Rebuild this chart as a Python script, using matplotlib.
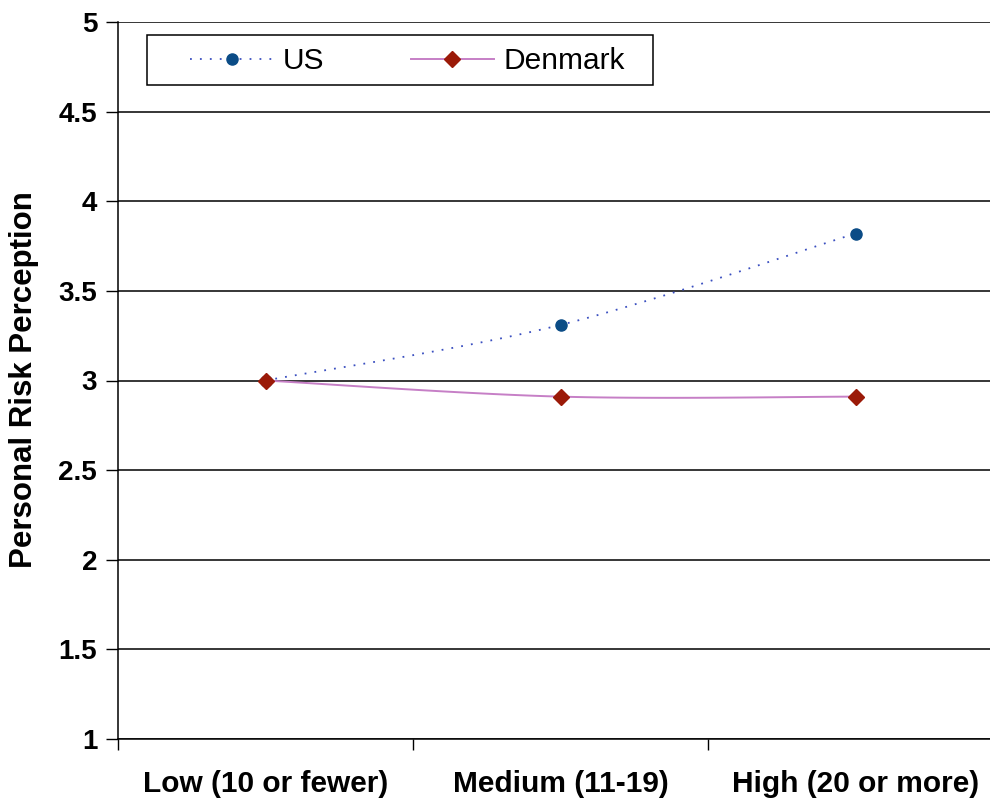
import numpy as np
import matplotlib
matplotlib.use("Agg")
import matplotlib.pyplot as plt
from matplotlib.patches import Rectangle

# Personal risk perception by number of events, by country
categories = ["Low (10 or fewer)", "Medium (11-19)", "High (20 or more)"]
us_values = [3.00, 3.31, 3.82]
denmark_values = [3.00, 2.91, 2.91]
y_ticks = [1, 1.5, 2, 2.5, 3, 3.5, 4, 4.5, 5]
y_tick_labels = ["1", "1.5", "2", "2.5", "3", "3.5", "4", "4.5", "5"]

plt.rcParams["font.family"] = ["Liberation Sans", "DejaVu Sans"]


def smooth(xs, ys, n=60):
    """Spreadsheet-style smoothed line: cubic Bezier segments with
    Catmull-Rom control points (1/6 of the neighbour span)."""
    pts = np.column_stack([xs, ys]).astype(float)
    ext = np.vstack([pts[0], pts, pts[-1]])
    out = []
    t = np.linspace(0, 1, n)[:, None]
    for i in range(len(pts) - 1):
        p0 = ext[i + 1]
        p3 = ext[i + 2]
        p1 = p0 + (ext[i + 2] - ext[i]) / 6.0
        p2 = p3 - (ext[i + 3] - ext[i + 1]) / 6.0
        seg = ((1 - t) ** 3) * p0 + 3 * ((1 - t) ** 2) * t * p1 \
            + 3 * (1 - t) * t ** 2 * p2 + t ** 3 * p3
        out.append(seg if i == 0 else seg[1:])
    curve = np.vstack(out)
    return curve[:, 0], curve[:, 1]


W, H = 990, 802
fig = plt.figure(figsize=(W / 100, H / 100), dpi=100)
# plot area: left edge at 118 px, spans 885 px (runs past the right edge)
AX_L, AX_W, AX_T, AX_B = 118, 885, 22, 739
ax = fig.add_axes([AX_L / W, 1 - AX_B / H, AX_W / W, (AX_B - AX_T) / H])
ax_h = AX_B - AX_T

x = np.arange(len(categories)) + 0.5

us_line_color = "#3a4fc0"
us_marker_color = "#0b4c86"
dk_line_color = "#c67fc6"
dk_marker_color = "#9b1a08"
us_dash = (0, (1, 4.5))

sx, sy = smooth(x, us_values)
ax.plot(sx, sy, linestyle=us_dash, color=us_line_color, lw=1.3, zorder=3)
ax.plot(x, us_values, linestyle="none", marker="o", markersize=8,
        color=us_marker_color, zorder=4)
dx, dy = smooth(x, denmark_values)
ax.plot(dx, dy, linestyle="-", color=dk_line_color, lw=1.4, zorder=3)
ax.plot(x, denmark_values, linestyle="none", marker="D", markersize=8.5,
        color=dk_marker_color, zorder=5)

# Legend proxies
us_handle, = ax.plot([], [], linestyle=us_dash, color=us_line_color,
                     lw=1.3, marker="o", markersize=8,
                     markerfacecolor=us_marker_color,
                     markeredgecolor=us_marker_color)
dk_handle, = ax.plot([], [], linestyle="-", color=dk_line_color, lw=1.4,
                     marker="D", markersize=8.5,
                     markerfacecolor=dk_marker_color,
                     markeredgecolor=dk_marker_color)

ax.set_xlim(0, 3)
ax.set_ylim(1, 5)

ax.set_yticks(y_ticks)
ax.set_yticklabels(y_tick_labels, fontsize=20, fontweight="bold")
ax.set_xticks([0, 1, 2, 3])
ax.set_xticklabels([])
ax.set_xticks(x, minor=True)
ax.set_xticklabels(categories, minor=True, fontsize=21.5, fontweight="bold")
ax.tick_params(axis="x", which="minor", length=0, pad=22)
ax.tick_params(axis="x", which="major", direction="out", length=8, width=1,
               color="black")
ax.tick_params(axis="y", direction="out", length=9, width=1, color="black",
               pad=6)

ax.yaxis.grid(True, color="black", linewidth=1.1)
ax.set_axisbelow(True)
for side in ("top", "right"):
    ax.spines[side].set_visible(False)
ax.spines["left"].set_linewidth(1.1)
ax.spines["bottom"].set_linewidth(1.1)

ax.set_ylabel("Personal Risk Perception", fontsize=22.5, fontweight="bold")
ax.yaxis.set_label_coords((39 - AX_L) / AX_W, (AX_B - 380) / ax_h)

# Legend: boxed, two entries side by side
box = Rectangle(((147 - AX_L) / AX_W, (AX_B - 85) / ax_h),
                (653 - 147) / AX_W, 50 / ax_h, transform=ax.transAxes,
                facecolor="white", edgecolor="black", linewidth=1.1,
                zorder=6, clip_on=False)
ax.add_patch(box)
leg = ax.legend([us_handle, dk_handle], ["US", "Denmark"], ncol=2,
                loc="center left",
                bbox_to_anchor=((190 - AX_L) / AX_W, (AX_B - 61) / ax_h),
                fontsize=21.5, frameon=False, handlelength=2.8,
                handletextpad=0.3, columnspacing=2.9, borderpad=0,
                borderaxespad=0)
leg.set_zorder(7)

fig.savefig("out.png", dpi=100)
